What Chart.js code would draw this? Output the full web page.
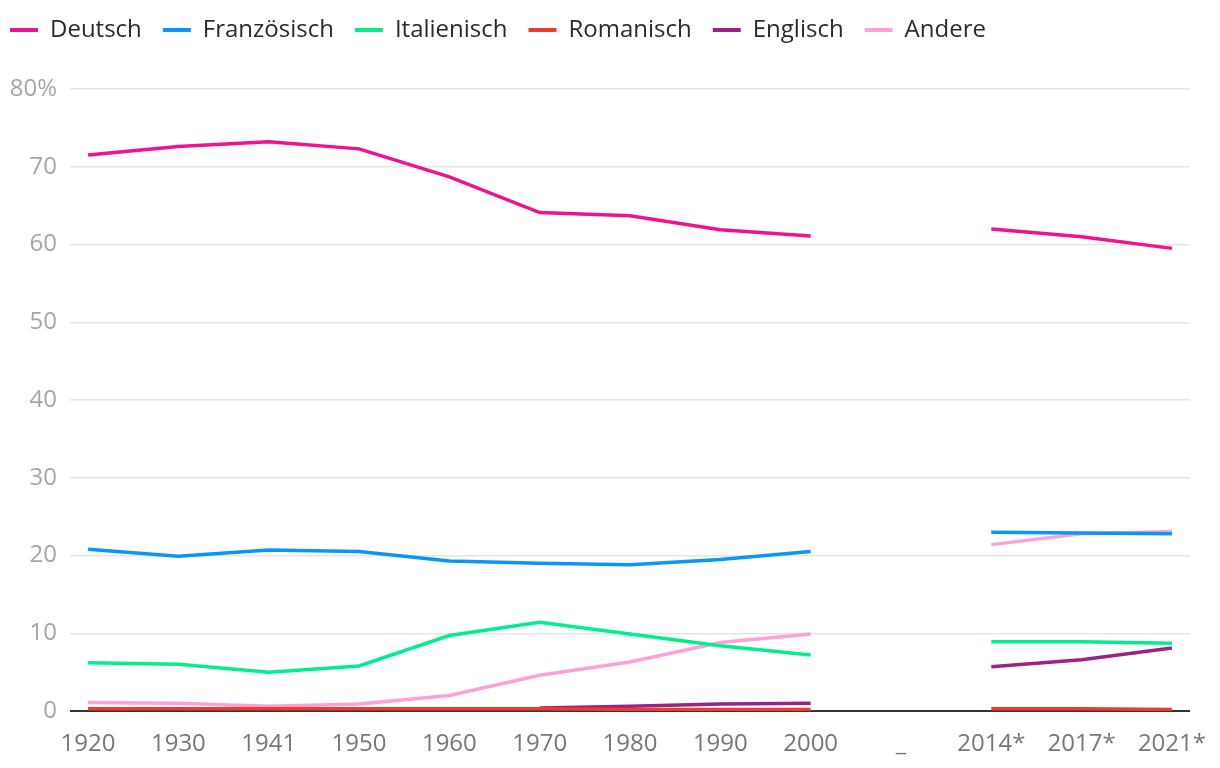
<!DOCTYPE html>
<html lang="de">
<head>
    <meta charset="UTF-8">
    <title>Hauptsprachen in der Schweiz</title>
    <script src="https://cdn.jsdelivr.net/npm/chart.js"></script>
    <style>
        html, body { margin: 0; padding: 0; background: #fff; }
        .chart-container { width: 1220px; height: 768px; position: relative; }
    </style>
</head>
<body>
    <div class="chart-container">
        <canvas id="sprachen-chart"></canvas>
    </div>

    <script>
        // Data (percent of population)
        const years = ['1920', '1930', '1941', '1950', '1960', '1970', '1980', '1990', '2000', '_', '2014*', '2017*', '2021*'];
        const deutsch     = [71.5, 72.6, 73.2, 72.3, 68.7, 64.1, 63.7, 61.9, 61.1, null, 62.0, 61.0, 59.5];
        const franzoesisch = [20.8, 19.9, 20.7, 20.5, 19.3, 19.0, 18.8, 19.5, 20.5, null, 23.0, 22.9, 22.8];
        const italienisch = [6.2, 6.0, 5.0, 5.8, 9.7, 11.4, 9.9, 8.4, 7.2, null, 8.9, 8.9, 8.7];
        const romanisch   = [0.3, 0.3, 0.3, 0.3, 0.3, 0.3, 0.2, 0.2, 0.2, null, 0.3, 0.3, 0.2];
        const englisch    = [null, null, null, null, null, 0.4, 0.6, 0.9, 1.0, null, 5.7, 6.6, 8.1];
        const andere      = [1.1, 1.0, 0.6, 0.9, 2.0, 4.6, 6.3, 8.8, 9.9, null, 21.4, 22.8, 23.1];
        const yTicks = [0, 10, 20, 30, 40, 50, 60, 70, 80];

        const FONT = 'Open Sans';
        const toPoints = arr => arr.map((v, i) => ({ x: i, y: v }));

        function series(label, values, color) {
            return {
                label: label,
                data: toPoints(values),
                borderColor: color,
                backgroundColor: color,
                borderWidth: 3.5,
                pointRadius: 0,
                pointHoverRadius: 0,
                tension: 0,
                spanGaps: false,
                fill: false
            };
        }

        // extra room under the legend, and nudge the legend up/left a bit
        const legendTweak = {
            id: 'legendTweak',
            beforeInit(chart) {
                const origFit = chart.legend.fit;
                chart.legend.fit = function() {
                    origFit.bind(chart.legend)();
                    this.height += 34;
                };
            },
            afterLayout(chart) {
                chart.legend.left -= 11;
                chart.legend.top -= 3;
            }
        };

        const ctx = document.getElementById('sprachen-chart').getContext('2d');
        new Chart(ctx, {
            type: 'line',
            data: {
                datasets: [
                    series('Deutsch', deutsch, '#f0128f'),
                    series('Französisch', franzoesisch, '#0a96f7'),
                    series('Italienisch', italienisch, '#00ee8e'),
                    series('Romanisch', romanisch, '#f03a2e'),
                    series('Englisch', englisch, '#9c2286'),
                    series('Andere', andere, '#ffa1d6')
                ]
            },
            plugins: [legendTweak],
            options: {
                responsive: true,
                maintainAspectRatio: false,
                animation: false,
                layout: { padding: { left: 0, right: 30, top: 0, bottom: 0 } },
                plugins: {
                    tooltip: { enabled: false },
                    legend: {
                        align: 'start',
                        labels: {
                            boxWidth: 28,
                            boxHeight: 4,
                            padding: 21,
                            color: '#2b2b2b',
                            font: { family: FONT, size: 24, weight: 500 },
                            generateLabels(chart) {
                                return chart.data.datasets.map((ds, i) => ({
                                    text: ds.label,
                                    fillStyle: ds.borderColor,
                                    strokeStyle: ds.borderColor,
                                    lineWidth: 0,
                                    fontColor: '#2b2b2b',
                                    datasetIndex: i,
                                    hidden: false
                                }));
                            }
                        }
                    }
                },
                scales: {
                    x: {
                        type: 'linear',
                        min: -0.2,
                        max: years.length - 1 + 0.2,
                        afterFit(scale) { scale.height = 57; },
                        grid: { display: false },
                        border: { display: false },
                        ticks: {
                            stepSize: 1,
                            includeBounds: false,
                            autoSkip: false,
                            maxRotation: 0,
                            padding: 11,
                            color: '#777',
                            font: { family: FONT, size: 24, weight: 500 },
                            callback: v => Number.isInteger(v) ? years[v] : ''
                        }
                    },
                    y: {
                        min: 0,
                        max: 80,
                        afterFit(scale) { scale.width = 70; },
                        afterBuildTicks(scale) { scale.ticks = yTicks.map(v => ({ value: v })); },
                        border: { display: false },
                        grid: {
                            drawTicks: false,
                            color: ctx => ctx.tick.value === 0 ? '#333' : '#e5e5e5',
                            lineWidth: ctx => ctx.tick.value === 0 ? 2 : 1.5
                        },
                        ticks: {
                            padding: 13,
                            color: '#a6a6a6',
                            font: { family: FONT, size: 24, weight: 500 },
                            callback: v => v === 80 ? '80%' : v
                        }
                    }
                }
            }
        });
    </script>
</body>
</html>
